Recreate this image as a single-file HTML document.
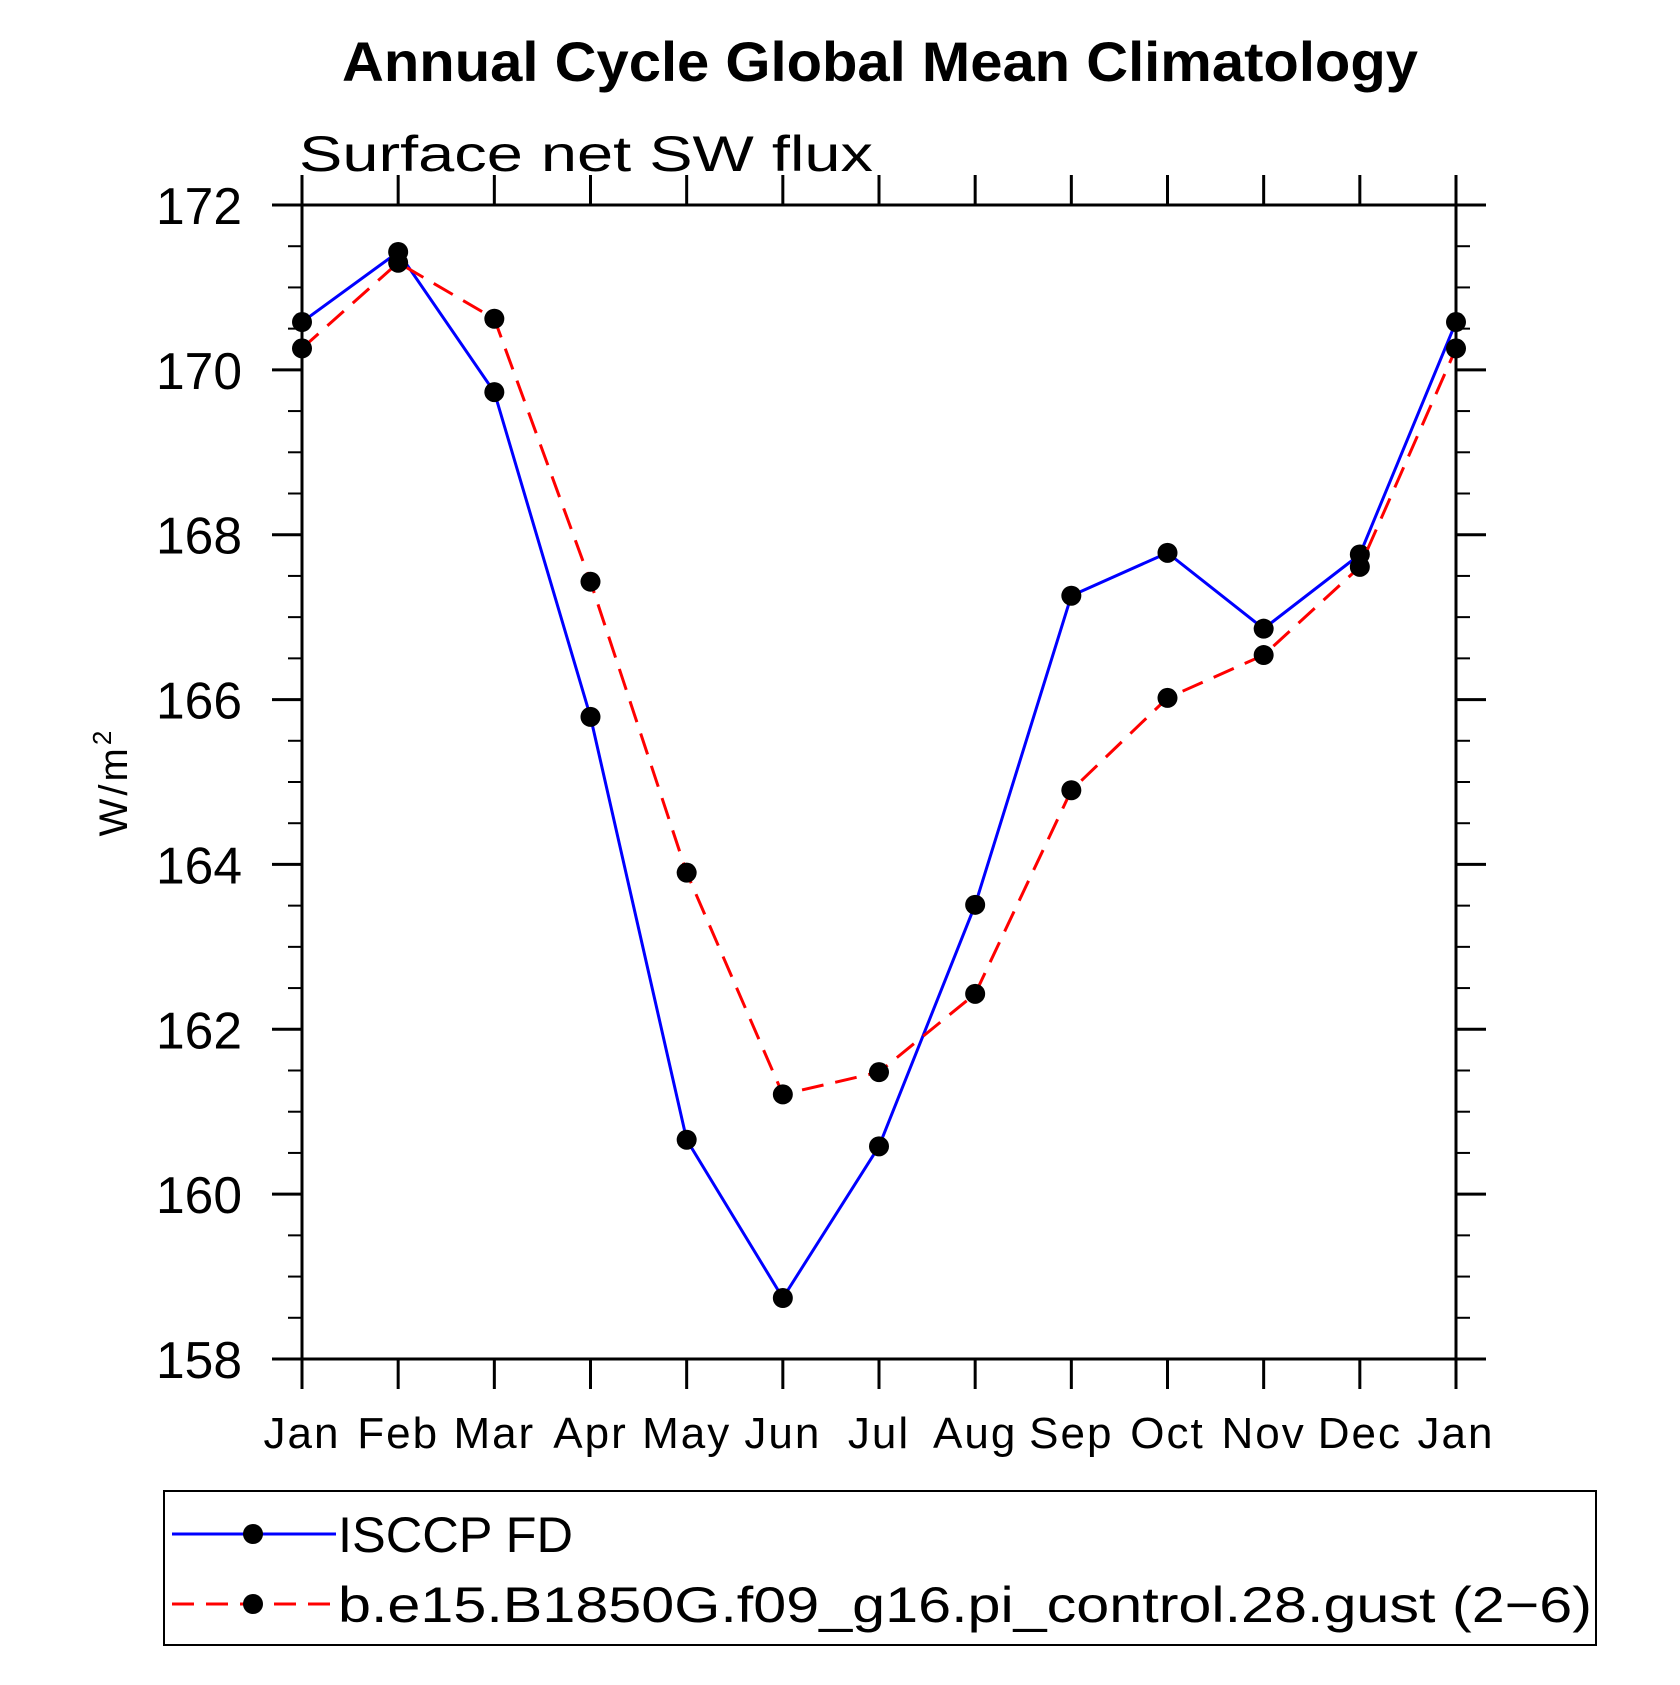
<!DOCTYPE html>
<html><head><meta charset="utf-8"><style>
body{margin:0;background:#fff}
svg text{font-family:"Liberation Sans",sans-serif}
</style></head><body>
<svg id="chart" width="1680" height="1680" viewBox="0 0 1680 1680" xmlns="http://www.w3.org/2000/svg">
<text x="342" y="81" font-size="56" font-weight="bold" textLength="1076" lengthAdjust="spacingAndGlyphs">Annual Cycle Global Mean Climatology</text>
<text x="299" y="171" font-size="50" textLength="574" lengthAdjust="spacingAndGlyphs">Surface net SW flux</text>
<text transform="translate(127 782) rotate(-90)" font-size="40" text-anchor="middle" letter-spacing="3">W/m<tspan dy="-16" font-size="26">2</tspan></text>
<g id="axes"></g>
<g id="series"></g>
<rect x="164" y="1491" width="1432" height="154" fill="none" stroke="#000" stroke-width="2"/>
<g>
<line x1="172" y1="1534" x2="336" y2="1534" stroke="#00f" stroke-width="3"/>
<circle cx="253" cy="1534" r="10"/>
<text x="338" y="1552" font-size="50" textLength="235" lengthAdjust="spacingAndGlyphs">ISCCP FD</text>
</g>
<g>
<line x1="172" y1="1604" x2="336" y2="1604" stroke="#f00" stroke-width="3" stroke-dasharray="22,12"/>
<circle cx="253" cy="1604" r="10"/>
<text x="338" y="1622" font-size="50" textLength="1254" lengthAdjust="spacingAndGlyphs">b.e15.B1850G.f09_g16.pi_control.28.gust (2−6)</text>
</g>
</svg>
<script>
const months=["Jan","Feb","Mar","Apr","May","Jun","Jul","Aug","Sep","Oct","Nov","Dec","Jan"];
const isccp=[170.58,171.43,169.73,165.79,160.66,158.74,160.58,163.51,167.26,167.78,166.86,167.76,170.58];
const model=[170.26,171.30,170.62,167.43,163.90,161.21,161.48,162.43,164.90,166.02,166.54,167.61,170.26];
const yTicks=[158,160,162,164,166,168,170,172];
const NS="http://www.w3.org/2000/svg";
const X0=302,X1=1456,Y0=1359,Y1=205,YMIN=158,YMAX=172;
function xs(i){return X0+(X1-X0)*i/(months.length-1);}
function ys(v){return Y0-(v-YMIN)/(YMAX-YMIN)*(Y0-Y1);}
function mk(t,a,p){const e=document.createElementNS(NS,t);for(const k in a)e.setAttribute(k,a[k]);p.appendChild(e);return e;}
const ax=document.getElementById('axes');
const frame=mk('rect',{x:X0,y:Y1,width:X1-X0,height:Y0-Y1,fill:'none',stroke:'#000','stroke-width':3},ax);


months.forEach((m,i)=>{
  const x=xs(i);
  const t1=mk('line',{x1:x,y1:Y0,x2:x,y2:Y0+30,stroke:'#000','stroke-width':3},ax);
  
  
  const t2=mk('line',{x1:x,y1:Y1,x2:x,y2:Y1-30,stroke:'#000','stroke-width':3},ax);
  
  
  const tx=mk('text',{x:x,y:1448,'font-size':44,'text-anchor':'middle','letter-spacing':2},ax);
  tx.textContent=m;
  
  
});
for(let v=YMIN;v<=YMAX+1e-9;v+=0.5){
  const y=ys(v);const major=Math.abs(v-Math.round(v/2)*2)<1e-9;
  const len=major?30:14;
  const a=mk('line',{x1:X0-len,y1:y,x2:X0,y2:y,stroke:'#000','stroke-width':major?3:2},ax);
  
  
  const b=mk('line',{x1:X1,y1:y,x2:X1+len,y2:y,stroke:'#000','stroke-width':major?3:2},ax);
  
  
}
yTicks.forEach(v=>{
  const y=ys(v);
  const t=mk('text',{x:156,y:y+19,'font-size':52,textLength:86,lengthAdjust:'spacingAndGlyphs'},ax);
  t.textContent=v;
  
  
});
const sg=document.getElementById('series');
function series(vals,color,dash,name){
  const p=mk('polyline',{points:vals.map((v,i)=>xs(i)+','+ys(v)).join(' '),fill:'none',stroke:color,'stroke-width':3},sg);
  if(dash)p.setAttribute('stroke-dasharray',dash);
  
  
  vals.forEach((v,i)=>{
    const c=mk('circle',{cx:xs(i),cy:ys(v),r:10,fill:'#000'},sg);
    
    
  });
}
series(isccp,'#00f',null,'isccp');
series(model,'#f00','22,12','model');
</script>
</body></html>
